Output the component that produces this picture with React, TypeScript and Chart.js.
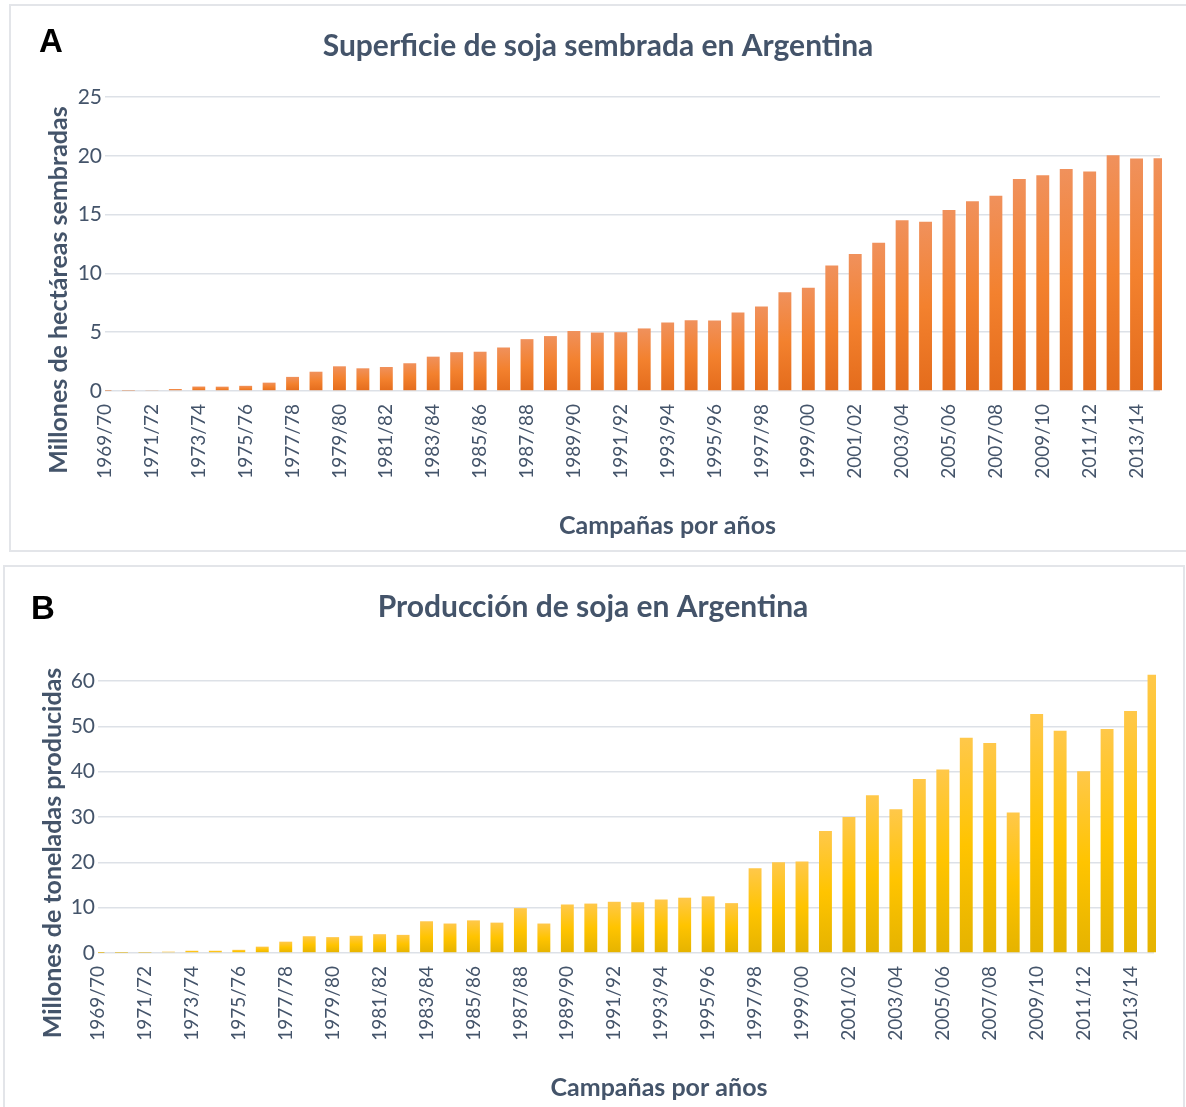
import React, { useEffect, useRef } from "react";
import { Chart, registerables } from "chart.js";

Chart.register(...registerables);

// ---------- data ----------
const campaigns = [
  "1969/70", "1970/71", "1971/72", "1972/73", "1973/74", "1974/75", "1975/76", "1976/77",
  "1977/78", "1978/79", "1979/80", "1980/81", "1981/82", "1982/83", "1983/84", "1984/85",
  "1985/86", "1986/87", "1987/88", "1988/89", "1989/90", "1990/91", "1991/92", "1992/93",
  "1993/94", "1994/95", "1995/96", "1996/97", "1997/98", "1998/99", "1999/00", "2000/01",
  "2001/02", "2002/03", "2003/04", "2004/05", "2005/06", "2006/07", "2007/08", "2008/09",
  "2009/10", "2010/11", "2011/12", "2012/13", "2013/14", "2014/15",
];

// Panel A: millones de hectáreas sembradas
const areaMha = [
  0.03, 0.04, 0.08, 0.17, 0.38, 0.37, 0.44, 0.71, 1.2, 1.64,
  2.1, 1.93, 2.04, 2.36, 2.92, 3.3, 3.34, 3.7, 4.41, 4.67,
  5.1, 4.97, 5.0, 5.32, 5.82, 6.01, 6.0, 6.67, 7.18, 8.4,
  8.79, 10.67, 11.64, 12.61, 14.53, 14.4, 15.39, 16.14, 16.6, 18.03,
  18.34, 18.88, 18.67, 20.04, 19.78, 19.79,
];

// Panel B: millones de toneladas producidas
const productionMt = [
  0.03, 0.06, 0.08, 0.3, 0.5, 0.5, 0.7, 1.4, 2.5, 3.7,
  3.5, 3.8, 4.15, 4.0, 7.0, 6.5, 7.2, 6.7, 9.9, 6.5,
  10.7, 10.9, 11.3, 11.2, 11.8, 12.2, 12.5, 11.0, 18.7, 20.0,
  20.2, 26.9, 30.0, 34.8, 31.7, 38.4, 40.5, 47.5, 46.3, 31.0,
  52.7, 49.0, 40.1, 49.4, 53.4, 61.4,
];

const areaTickMax = 25;
const areaTickStep = 5;
const prodTickMax = 60;
const prodTickStep = 10;

const titleA = "Superficie de soja sembrada en Argentina";
const titleB = "Producción de soja en Argentina";
const yTitleA = "Millones de hectáreas sembradas";
const yTitleB = "Millones de toneladas producidas";
const xTitle = "Campañas por años";

// ---------- styles ----------
const TEXT = "#44546A";
const GRID = "#dde1e7";
const FONT = "Lato, 'Open Sans', 'DejaVu Sans', sans-serif";
const ORANGE_STOPS: [number, string][] = [
  [0, "#F0915C"],
  [0.5, "#F3812E"],
  [1, "#E46C1C"],
];
const YELLOW_STOPS: [number, string][] = [
  [0, "#FFC84A"],
  [0.5, "#FFC400"],
  [1, "#E5B300"],
];

function barGradient(stops: [number, string][]) {
  return (c: any) => {
    const chart = c.chart;
    if (!chart.chartArea || c.type !== "data" || !chart.scales.y) return stops[1][1];
    const y = chart.scales.y;
    const top = y.getPixelForValue(c.raw);
    const base = y.getPixelForValue(0);
    if (!isFinite(top) || !isFinite(base) || base - top < 1) return stops[stops.length - 1][1];
    const g = chart.ctx.createLinearGradient(0, top, 0, base);
    stops.forEach(([o, col]) => g.addColorStop(o, col));
    return g;
  };
}

const panelTextPlugin = {
  id: "panelText",
  afterDraw(chart: any, _args: any, opts: any) {
    const ctx = chart.ctx;
    const ca = chart.chartArea;
    ctx.save();
    ctx.fillStyle = "#000";
    ctx.font = `bold ${opts.letterSize}px "Liberation Sans", Arial, sans-serif`;
    ctx.textAlign = "left";
    ctx.textBaseline = "alphabetic";
    ctx.fillText(opts.letter, opts.letterX, opts.letterY);

    ctx.fillStyle = TEXT;
    ctx.font = `bold ${opts.axisSize}px ${FONT}`;
    ctx.textAlign = "center";
    ctx.textBaseline = "middle";
    ctx.fillText(opts.xTitle, (ca.left + ca.right) / 2 + opts.xTitleDx, ca.bottom + opts.xTitleDy);

    ctx.translate(opts.yTitleX, (ca.top + ca.bottom) / 2 + opts.yTitleDy);
    ctx.rotate(-Math.PI / 2);
    ctx.fillText(opts.yTitle, 0, 0);
    ctx.restore();
  },
};

type PanelProps = {
  top: number;
  height: number;
  title: string;
  values: number[];
  stops: [number, string][];
  yMax: number;
  yStep: number;
  padLeft: number;
  padRight: number;
  yWidth: number;
  plotTop: number;
  plotBottom: number;
  titlePadTop: number;
  text: any;
};

function Panel(p: PanelProps) {
  const ref = useRef<HTMLCanvasElement | null>(null);
  useEffect(() => {
    if (!ref.current) return;
    const titleSize = 30;
    const titleLine = titleSize * 1.2;
    const chart = new Chart(ref.current, {
      type: "bar",
      data: {
        labels: campaigns,
        datasets: [
          {
            data: p.values,
            backgroundColor: barGradient(p.stops) as any,
            borderWidth: 0,
            categoryPercentage: 1,
            barPercentage: 0.55,
            clip: { left: 0, top: 14, right: 2, bottom: 1 } as any,
          },
        ],
      },
      options: {
        animation: false,
        responsive: true,
        maintainAspectRatio: false,
        devicePixelRatio: 1,
        layout: { padding: { left: p.padLeft, right: p.padRight, top: 0, bottom: 0 } },
        plugins: {
          legend: { display: false },
          tooltip: { enabled: false },
          title: {
            display: true,
            text: p.title,
            color: TEXT,
            font: { family: FONT, size: titleSize, weight: "bold", lineHeight: 1.2 },
            padding: { top: p.titlePadTop, bottom: p.plotTop - titleLine - p.titlePadTop },
          },
          panelText: p.text,
        } as any,
        scales: {
          x: {
            type: "category",
            offset: false,
            grid: { display: false, drawTicks: false },
            border: { display: false },
            ticks: {
              autoSkip: false,
              maxRotation: 90,
              minRotation: 90,
              padding: 13,
              color: TEXT,
              font: { family: FONT, size: 19 },
              callback: function (this: any, value: any, index: number) {
                return index % 2 === 0 ? campaigns[index] : "";
              },
            },
            afterFit: (s: any) => {
              s.height = p.height - p.plotBottom;
              s.paddingLeft = 0;
              s.paddingRight = 0;
            },
          },
          y: {
            min: 0,
            max: p.yMax,
            grid: { color: GRID, lineWidth: 1.6, drawTicks: false },
            border: { display: false },
            ticks: {
              stepSize: p.yStep,
              padding: 3,
              color: TEXT,
              font: { family: FONT, size: 21 },
            },
            afterFit: (s: any) => {
              s.width = p.yWidth;
            },
          },
        },
      },
      plugins: [panelTextPlugin],
    });
    return () => chart.destroy();
  }, []);
  return (
    <div style={{ position: "absolute", left: 0, top: p.top, width: 1186, height: p.height }}>
      <canvas ref={ref} />
    </div>
  );
}

export default function App() {
  return (
    <div
      style={{
        position: "fixed",
        left: 0,
        top: 0,
        width: 1186,
        height: 1107,
        overflow: "hidden",
        background: "#fff",
      }}
    >
      <div
        style={{
          position: "absolute",
          left: 9,
          top: 4,
          width: 1200,
          height: 548,
          border: "2px solid #e3e5e9",
          boxSizing: "border-box",
        }}
      />
      <div
        style={{
          position: "absolute",
          left: 3,
          top: 565,
          width: 1182,
          height: 600,
          border: "2px solid #e3e5e9",
          boxSizing: "border-box",
        }}
      />
      <Panel
        top={0}
        height={556}
        title={titleA}
        values={areaMha}
        stops={ORANGE_STOPS}
        yMax={areaTickMax}
        yStep={areaTickStep}
        padLeft={36}
        padRight={26}
        yWidth={69}
        plotTop={97}
        plotBottom={391}
        titlePadTop={28}
        text={{
          letter: "A",
          letterSize: 33,
          letterX: 39,
          letterY: 52,
          axisSize: 25,
          xTitle: xTitle,
          xTitleDx: 35,
          xTitleDy: 135,
          yTitle: yTitleA,
          yTitleX: 59,
          yTitleDy: 46,
        }}
      />
      <Panel
        top={556}
        height={551}
        title={titleB}
        values={productionMt}
        stops={YELLOW_STOPS}
        yMax={prodTickMax}
        yStep={prodTickStep}
        padLeft={32}
        padRight={32}
        yWidth={66}
        plotTop={125}
        plotBottom={397}
        titlePadTop={33}
        text={{
          letter: "B",
          letterSize: 33,
          letterX: 31,
          letterY: 63,
          axisSize: 25,
          xTitle: xTitle,
          xTitleDx: 33,
          xTitleDy: 135,
          yTitle: yTitleB,
          yTitleX: 53,
          yTitleDy: 36,
        }}
      />
    </div>
  );
}
